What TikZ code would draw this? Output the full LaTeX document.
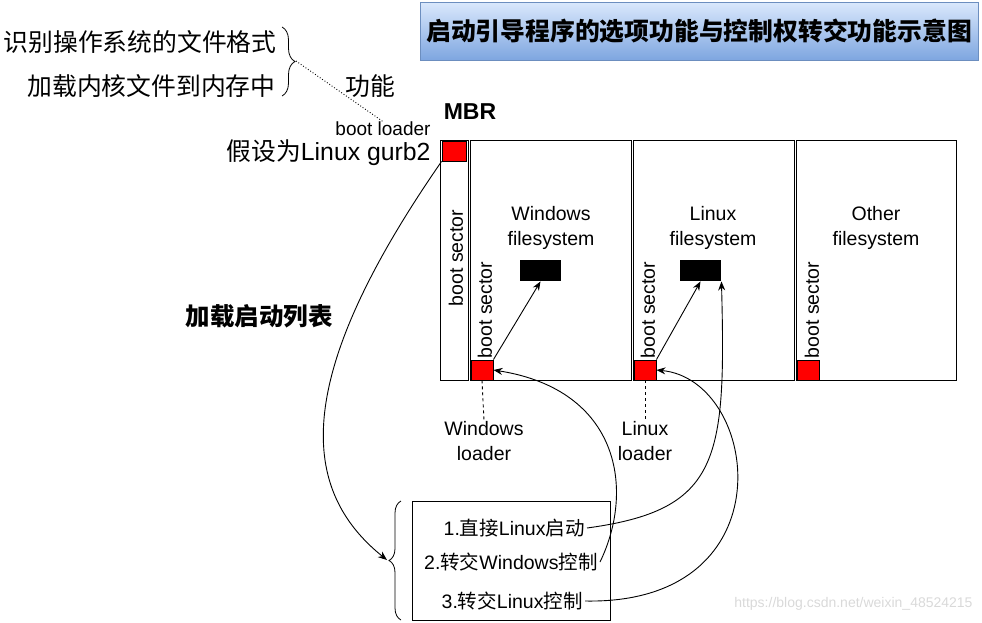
\documentclass[tikz,border=0pt]{standalone}
\usepackage{fontspec}
\setmainfont{Liberation Sans}
\newfontfamily\cjk{Noto Sans CJK SC}
\usetikzlibrary{arrows.meta,decorations.pathreplacing}

\definecolor{titletop}{HTML}{DAE8FC}
\definecolor{titlebot}{HTML}{7EA6E0}
\definecolor{titleline}{HTML}{6C8EBF}

\tikzset{
  txt/.style={font=\fontsize{19.5}{25}\selectfont, align=center, inner sep=0pt},
  big/.style={font=\fontsize{24.8}{28}\selectfont, inner sep=0pt},
  fsbox/.style={draw, minimum width=161, minimum height=240, inner sep=0pt},
  bootsec/.style={draw, fill=red, minimum width=22, minimum height=20, inner sep=0pt},
  kernel/.style={fill=black, minimum width=41, minimum height=21, inner sep=0pt},
}

\begin{document}
\begin{tikzpicture}[x=1pt,y=-1pt,line width=0.9pt,>={Stealth[length=9pt,width=7pt]}]
\useasboundingbox (0,0) rectangle (982,622);

% title
\node[draw=titleline, top color=titletop, bottom color=titlebot, minimum width=558, minimum height=58,
  font=\cjk\bfseries\fontsize{24.8}{28}\selectfont] (title) at (699,31) {启动引导程序的选项功能与控制权转交功能示意图};

% functions of the boot loader
\node[big, anchor=east] (fn1) at (277,42) {\cjk 识别操作系统的文件格式};
\node[big, anchor=east] (fn2) at (276,86) {\cjk 加载内核文件到内存中};
\draw[decorate, decoration={brace, amplitude=13pt}, line width=0.8pt] (282,27) -- (282,96);
\coordinate (fntip) at (296,61);
\node[big] (fnlbl) at (370,86) {\cjk 功能};
\node[txt, font=\fontsize{19}{22}\selectfont] (bl) at (383,129) {boot loader};
\draw[dotted] (fntip) -- (bl.north);
\node[big, anchor=east] (grub) at (431,153) {{\cjk 假设为}Linux gurb2};

% MBR
\node[font=\bfseries\fontsize{23}{26}\selectfont, inner sep=0pt] (mbrlbl) at (470,112) {MBR};
\node[draw, minimum width=28, minimum height=240, inner sep=0pt] (mbr) at (454,260) {};
\node[bootsec, minimum width=24] (mbrboot) at (454,151) {};
\node[txt, rotate=90] at (456,258) {boot sector};

% partitions
\node[fsbox] (winfs) at (550.5,260) {};
\node[fsbox] (linfs) at (713.5,260) {};
\node[fsbox, minimum width=160] (othfs) at (876,260) {};

\node[txt] at (551,228) {Windows\\filesystem};
\node[txt] at (713,228) {Linux\\filesystem};
\node[txt] at (876,228) {Other\\filesystem};

\node[bootsec] (winboot) at (482,370) {};
\node[bootsec] (linboot) at (645,370) {};
\node[bootsec] (othboot) at (808,370) {};

\node[txt, rotate=90] at (485,310) {boot sector};
\node[txt, rotate=90] at (648,310) {boot sector};
\node[txt, rotate=90] at (812,310) {boot sector};

\node[kernel] (winker) at (540.5,270.5) {};
\node[kernel] (linker) at (700.5,270.5) {};

\draw[->] (winboot.north east) -- (winker.south);
\draw[->] (linboot.north east) -- (linker.south);

% loaders
\node[txt] (winld) at (484,441) {Windows\\loader};
\node[txt] (linld) at (645,441) {Linux\\loader};
\draw[dashed] (winboot.south) -- (winld.north);
\draw[dashed] (linboot.south) -- (linld.north);

% boot list
\node[big, font=\cjk\bfseries\fontsize{24.5}{28}\selectfont] (listlbl) at (259,316) {加载启动列表};
\node[draw, minimum width=198, minimum height=119, inner sep=0pt] (list) at (511,560.5) {};
\node[txt, anchor=east, inner sep=2pt] (opt1) at (587,528) {1.{\cjk 直接}Linux{\cjk 启动}};
\node[txt, anchor=east, inner sep=2pt] (opt2) at (600,562) {2.{\cjk 转交}Windows{\cjk 控制}};
\node[txt, anchor=east, inner sep=2pt] (opt3) at (585,601) {3.{\cjk 转交}Linux{\cjk 控制}};
\draw[decorate, decoration={brace, amplitude=12pt}, line width=0.8pt] (401,620) -- (401,501);
\coordinate (listtip) at (387,560);

% control transfer
\draw[->] (mbrboot.south west) .. controls (290,380) and (300,490) .. (listtip);
\draw[->] (opt2.east) .. controls (635,490) and (620,390) .. (winboot.east);
\draw[->] (opt1.east) .. controls (720,510) and (726,460) .. (linker.south east);
\draw[->] (opt3.east) .. controls (790,605) and (760,380) .. (linboot.east);

\node[font=\fontsize{14}{16}\selectfont, text=gray!30, anchor=east, inner sep=0pt] (wm) at (973,604) {https://blog.csdn.net/weixin\_48524215};
\end{tikzpicture}
\end{document}
